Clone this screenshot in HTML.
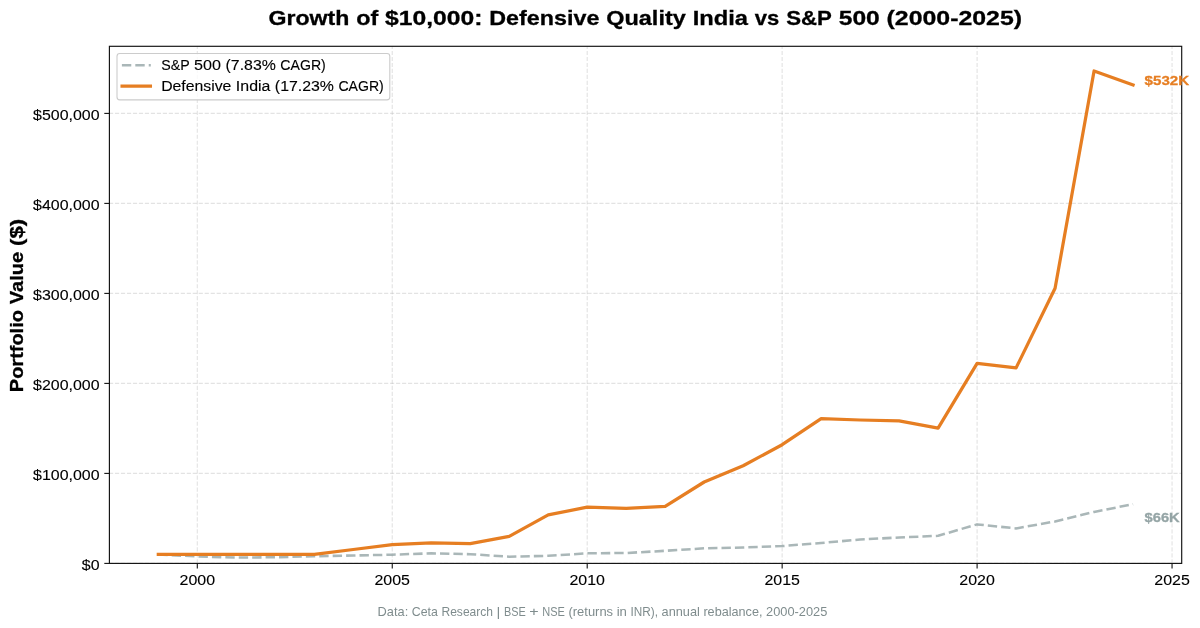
<!DOCTYPE html><html><head><meta charset="utf-8"><style>html,body{margin:0;padding:0;background:#fff;}svg{display:block;will-change:transform;}</style></head><body>
<svg width="1200" height="628" viewBox="0 0 1200 628" font-family='"Liberation Sans", sans-serif'>
<rect x="0" y="0" width="1200" height="628" fill="#fff"/>
<g stroke="#b0b0b0" stroke-opacity="0.35" stroke-width="1.1" stroke-dasharray="4.17 1.81" fill="none"><line x1="197.30" y1="563.40" x2="197.30" y2="46.30"/><line x1="392.25" y1="563.40" x2="392.25" y2="46.30"/><line x1="587.20" y1="563.40" x2="587.20" y2="46.30"/><line x1="782.15" y1="563.40" x2="782.15" y2="46.30"/><line x1="977.10" y1="563.40" x2="977.10" y2="46.30"/><line x1="1172.05" y1="563.40" x2="1172.05" y2="46.30"/><line x1="109.00" y1="563.40" x2="1181.70" y2="563.40"/><line x1="109.00" y1="473.40" x2="1181.70" y2="473.40"/><line x1="109.00" y1="383.40" x2="1181.70" y2="383.40"/><line x1="109.00" y1="293.40" x2="1181.70" y2="293.40"/><line x1="109.00" y1="203.40" x2="1181.70" y2="203.40"/><line x1="109.00" y1="113.40" x2="1181.70" y2="113.40"/></g>
<polyline points="158.31,554.40 197.30,556.50 236.29,557.50 275.28,557.30 314.27,556.20 353.26,555.50 392.25,554.70 431.24,553.30 470.23,554.20 509.22,556.70 548.21,555.80 587.20,553.30 626.19,553.00 665.18,550.80 704.17,548.30 743.16,547.50 782.15,546.10 821.14,543.00 860.13,539.50 899.12,537.50 938.11,535.80 977.10,524.40 1016.09,528.40 1055.08,521.50 1094.07,511.90 1133.06,504.20" fill="none" stroke="#95a5a6" stroke-width="2.53" stroke-opacity="0.8" stroke-dasharray="9.37 4.05" stroke-linejoin="round" stroke-linecap="butt"/>
<polyline points="158.31,554.40 197.30,554.40 236.29,554.40 275.28,554.40 314.27,554.40 353.26,549.50 392.25,544.70 431.24,542.80 470.23,543.70 509.22,536.40 548.21,514.90 587.20,507.20 626.19,508.30 665.18,506.30 704.17,482.00 743.16,465.80 782.15,444.70 821.14,418.60 860.13,420.00 899.12,420.80 938.11,428.20 977.10,363.40 1016.09,367.90 1055.08,288.30 1094.07,71.00 1133.06,85.00" fill="none" stroke="#e67e22" stroke-width="3.25" stroke-linejoin="round" stroke-linecap="square"/>
<rect x="109.40" y="46.30" width="1072.30" height="517.10" fill="none" stroke="#111" stroke-width="1.15" stroke-linejoin="miter"/>
<g stroke="#111" stroke-width="1.1"><line x1="197.30" y1="563.40" x2="197.30" y2="568.50"/><line x1="109.40" y1="563.40" x2="104.30" y2="563.40"/><line x1="392.25" y1="563.40" x2="392.25" y2="568.50"/><line x1="109.40" y1="473.40" x2="104.30" y2="473.40"/><line x1="587.20" y1="563.40" x2="587.20" y2="568.50"/><line x1="109.40" y1="383.40" x2="104.30" y2="383.40"/><line x1="782.15" y1="563.40" x2="782.15" y2="568.50"/><line x1="109.40" y1="293.40" x2="104.30" y2="293.40"/><line x1="977.10" y1="563.40" x2="977.10" y2="568.50"/><line x1="109.40" y1="203.40" x2="104.30" y2="203.40"/><line x1="1172.05" y1="563.40" x2="1172.05" y2="568.50"/><line x1="109.40" y1="113.40" x2="104.30" y2="113.40"/></g>
<g font-size="13.25" font-weight="bold" fill="#e67e22" stroke="#e67e22" stroke-width="0.3"><text x="1144.60" y="85.20" textLength="44.48" lengthAdjust="spacingAndGlyphs">$532K</text></g>
<g font-size="13.04" font-weight="bold" fill="#95a5a6" stroke="#95a5a6" stroke-width="0.3"><text x="1144.50" y="521.80" textLength="35.21" lengthAdjust="spacingAndGlyphs">$66K</text></g>
<g font-size="14.79" fill="#000" stroke="#000" stroke-width="0.12"><text x="81.85" y="569.50" textLength="17.75" lengthAdjust="spacingAndGlyphs">$0</text></g>
<g font-size="14.79" fill="#000" stroke="#000" stroke-width="0.12"><text x="179.55" y="584.60" textLength="35.50" lengthAdjust="spacingAndGlyphs">2000</text></g>
<g font-size="14.79" fill="#000" stroke="#000" stroke-width="0.12"><text x="33.04" y="479.50" textLength="66.56" lengthAdjust="spacingAndGlyphs">$100,000</text></g>
<g font-size="14.79" fill="#000" stroke="#000" stroke-width="0.12"><text x="374.50" y="584.60" textLength="35.50" lengthAdjust="spacingAndGlyphs">2005</text></g>
<g font-size="14.79" fill="#000" stroke="#000" stroke-width="0.12"><text x="33.04" y="389.50" textLength="66.56" lengthAdjust="spacingAndGlyphs">$200,000</text></g>
<g font-size="14.79" fill="#000" stroke="#000" stroke-width="0.12"><text x="569.45" y="584.60" textLength="35.50" lengthAdjust="spacingAndGlyphs">2010</text></g>
<g font-size="14.79" fill="#000" stroke="#000" stroke-width="0.12"><text x="33.04" y="299.50" textLength="66.56" lengthAdjust="spacingAndGlyphs">$300,000</text></g>
<g font-size="14.79" fill="#000" stroke="#000" stroke-width="0.12"><text x="764.40" y="584.60" textLength="35.50" lengthAdjust="spacingAndGlyphs">2015</text></g>
<g font-size="14.79" fill="#000" stroke="#000" stroke-width="0.12"><text x="33.04" y="209.50" textLength="66.56" lengthAdjust="spacingAndGlyphs">$400,000</text></g>
<g font-size="14.79" fill="#000" stroke="#000" stroke-width="0.12"><text x="959.35" y="584.60" textLength="35.50" lengthAdjust="spacingAndGlyphs">2020</text></g>
<g font-size="14.79" fill="#000" stroke="#000" stroke-width="0.12"><text x="33.04" y="119.50" textLength="66.56" lengthAdjust="spacingAndGlyphs">$500,000</text></g>
<g font-size="14.79" fill="#000" stroke="#000" stroke-width="0.12"><text x="1154.30" y="584.60" textLength="35.50" lengthAdjust="spacingAndGlyphs">2025</text></g>
<g transform="translate(23.1,305.5) rotate(-90)"><g font-size="17.60" font-weight="bold" fill="#000" stroke="#000" stroke-width="0.3"><text x="-86.67" y="0.00" textLength="82.08" lengthAdjust="spacingAndGlyphs">Portfolio</text><text x="1.25" y="0.00" textLength="52.53" lengthAdjust="spacingAndGlyphs">Value</text><text x="59.63" y="0.00" textLength="27.04" lengthAdjust="spacingAndGlyphs">($)</text></g></g>
<g font-size="20.78" font-weight="bold" fill="#000" stroke="#000" stroke-width="0.3"><text x="268.56" y="25.20" textLength="80.84" lengthAdjust="spacingAndGlyphs">Growth</text><text x="356.24" y="25.20" textLength="22.05" lengthAdjust="spacingAndGlyphs">of</text><text x="385.13" y="25.20" textLength="97.34" lengthAdjust="spacingAndGlyphs">$10,000:</text><text x="489.31" y="25.20" textLength="110.05" lengthAdjust="spacingAndGlyphs">Defensive</text><text x="606.20" y="25.20" textLength="79.62" lengthAdjust="spacingAndGlyphs">Quality</text><text x="692.66" y="25.20" textLength="55.35" lengthAdjust="spacingAndGlyphs">India</text><text x="754.85" y="25.20" textLength="24.50" lengthAdjust="spacingAndGlyphs">vs</text><text x="786.19" y="25.20" textLength="45.68" lengthAdjust="spacingAndGlyphs">S&amp;P</text><text x="838.72" y="25.20" textLength="41.01" lengthAdjust="spacingAndGlyphs">500</text><text x="886.57" y="25.20" textLength="135.48" lengthAdjust="spacingAndGlyphs">(2000-2025)</text></g>
<g font-size="11.91" fill="#7f8c8d"><text x="377.64" y="615.70" textLength="30.62" lengthAdjust="spacingAndGlyphs">Data:</text><text x="411.84" y="615.70" textLength="26.06" lengthAdjust="spacingAndGlyphs">Ceta</text><text x="441.47" y="615.70" textLength="51.56" lengthAdjust="spacingAndGlyphs">Research</text><text x="496.60" y="615.70" textLength="3.79" lengthAdjust="spacingAndGlyphs">|</text><text x="503.96" y="615.70" textLength="21.75" lengthAdjust="spacingAndGlyphs">BSE</text><text x="529.29" y="615.70" textLength="9.42" lengthAdjust="spacingAndGlyphs">+</text><text x="542.28" y="615.70" textLength="22.64" lengthAdjust="spacingAndGlyphs">NSE</text><text x="568.49" y="615.70" textLength="44.61" lengthAdjust="spacingAndGlyphs">(returns</text><text x="616.68" y="615.70" textLength="10.25" lengthAdjust="spacingAndGlyphs">in</text><text x="630.50" y="615.70" textLength="27.49" lengthAdjust="spacingAndGlyphs">INR),</text><text x="661.56" y="615.70" textLength="38.27" lengthAdjust="spacingAndGlyphs">annual</text><text x="703.40" y="615.70" textLength="59.11" lengthAdjust="spacingAndGlyphs">rebalance,</text><text x="766.09" y="615.70" textLength="61.27" lengthAdjust="spacingAndGlyphs">2000-2025</text></g>
<rect x="117.0" y="53.5" width="272.8" height="46.4" rx="2.8" ry="2.8" fill="#fff" fill-opacity="0.8" stroke="#cccccc" stroke-width="1.1"/>
<line x1="121.9" y1="65.3" x2="150.8" y2="65.3" stroke="#95a5a6" stroke-opacity="0.8" stroke-width="2.53" stroke-dasharray="9.37 4.05"/>
<line x1="122.1" y1="86.2" x2="150.4" y2="86.2" stroke="#e67e22" stroke-width="3.25" stroke-linecap="square"/>
<g font-size="14.79" fill="#000" stroke="#000" stroke-width="0.12"><text x="161.20" y="70.20" textLength="28.45" lengthAdjust="spacingAndGlyphs">S&amp;P</text><text x="194.14" y="70.20" textLength="26.92" lengthAdjust="spacingAndGlyphs">500</text><text x="225.54" y="70.20" textLength="50.31" lengthAdjust="spacingAndGlyphs">(7.83%</text><text x="280.33" y="70.20" textLength="45.48" lengthAdjust="spacingAndGlyphs">CAGR)</text></g>
<g font-size="14.79" fill="#000" stroke="#000" stroke-width="0.12"><text x="161.20" y="91.40" textLength="70.20" lengthAdjust="spacingAndGlyphs">Defensive</text><text x="235.87" y="91.40" textLength="34.51" lengthAdjust="spacingAndGlyphs">India</text><text x="274.85" y="91.40" textLength="59.10" lengthAdjust="spacingAndGlyphs">(17.23%</text><text x="338.42" y="91.40" textLength="45.34" lengthAdjust="spacingAndGlyphs">CAGR)</text></g>
</svg></body></html>
